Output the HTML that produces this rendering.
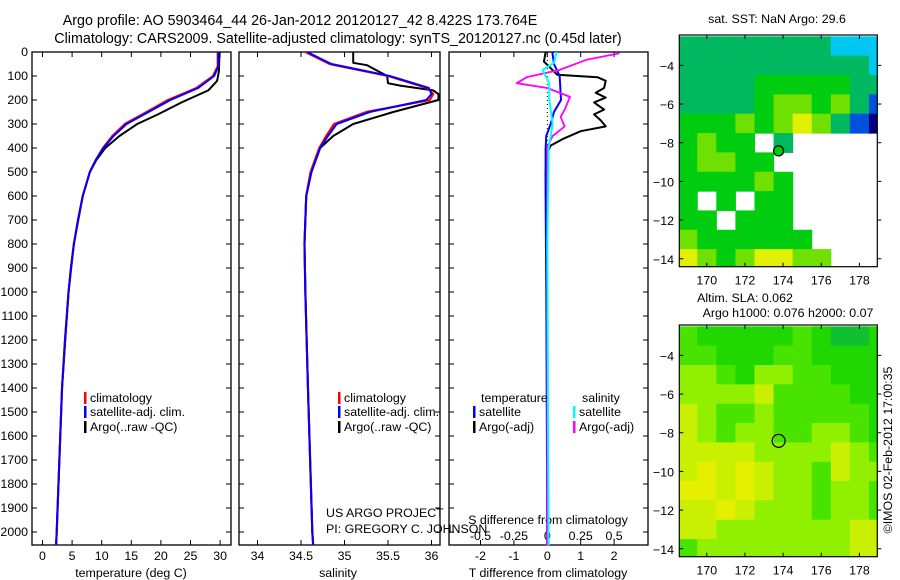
<!DOCTYPE html>
<html><head><meta charset="utf-8"><style>
html,body{margin:0;padding:0;background:#fff}
svg{display:block;font-family:"Liberation Sans",sans-serif}
text{font-size:12.4px;fill:#000}
</style></head><body>
<svg id="c" width="900" height="580" viewBox="0 0 900 580" xmlns="http://www.w3.org/2000/svg">
<text x="300" y="25" text-anchor="middle" style="font-size:14.3px">Argo profile: AO 5903464_44 26-Jan-2012 20120127_42 8.422S 173.764E</text>
<text x="338" y="43" text-anchor="middle" style="font-size:14.3px">Climatology: CARS2009. Satellite-adjusted climatology: synTS_20120127.nc (0.45d later)</text>
<g id="g"></g>
<text x="326" y="517">US ARGO PROJECT</text>
<text x="326" y="533">PI: GREGORY C. JOHNSON</text>
<text x="777" y="23" text-anchor="middle">sat. SST: NaN Argo: 29.6</text>
<text x="745" y="302" text-anchor="middle">Altim. SLA: 0.062</text>
<text x="788" y="317" text-anchor="middle">Argo h1000: 0.076 h2000: 0.07</text>
<text transform="translate(892,450) rotate(-90)" text-anchor="middle">©IMOS 02-Feb-2012 17:00:35</text>
</svg>
<script>
// ---- profile data (depth in m) ----
const tDepth=[0,60,100,150,200,250,300,350,400,450,500,600,700,800,900,1000,1200,1400,1600,1800,2000,2055];
const tClim=[29.6,29.6,28.8,26.0,21.2,17.6,13.9,11.8,10.2,9.0,8.0,6.8,6.0,5.3,4.8,4.4,3.8,3.3,3.0,2.7,2.4,2.3];
const tSat=[29.7,29.7,29.0,26.3,21.6,17.9,14.2,12.0,10.3,9.0,8.0,6.8,6.0,5.3,4.8,4.4,3.8,3.3,3.0,2.7,2.4,2.3];
const tArgoDepth=[0,80,120,160,210,260,300,350,400,450,500,600,800,1000,1400,1800,2000,2055];
const tArgo=[29.9,29.8,29.5,28.0,23.5,19.5,16.0,13.0,10.6,9.1,8.0,6.8,5.3,4.4,3.3,2.7,2.4,2.3];
const sDepth=[0,50,100,150,175,200,250,300,350,400,500,600,800,1000,1400,2000,2055];
const sClim=[34.55,34.83,35.50,35.95,36.02,35.98,35.25,34.88,34.79,34.71,34.61,34.56,34.54,34.55,34.58,34.63,34.64];
const sSat=[34.57,34.85,35.52,35.97,36.0,35.94,35.29,34.91,34.81,34.72,34.62,34.56,34.54,34.55,34.58,34.63,34.64];
const sArgoDepth=[0,45,55,100,130,140,160,175,200,250,300,350,400,500,600,800,1000,1400,2000,2055];
const sArgo=[35.10,35.10,35.26,35.49,35.50,35.64,36.02,36.08,36.08,35.56,35.10,34.87,34.72,34.62,34.56,34.54,34.55,34.58,34.63,34.64];
const dDepthTs=[0,50,100,200,250,300,350,400,600,1000,2055];
const dTsat=[0.15,0.2,0.37,0.41,0.2,0.1,-0.03,-0.05,-0.05,-0.03,0];
const dDepthTa=[0,40,60,95,105,120,150,170,190,210,240,260,285,310,330,360,390,420,500,1000,2055];
const dTargo=[-0.05,-0.1,0.05,0.3,1.5,1.75,1.7,1.45,1.75,1.4,1.7,1.4,1.6,1.75,1.0,0.5,0.1,0,-0.05,0,0];
const dDepthSs=[0,45,75,130,200,300,400,800,2055];
const dSsat=[0.07,0.05,-0.035,0.015,0.015,0.04,0.01,0.0,0.01];
const dDepthSa=[5,33,75,104,130,150,187,240,270,310,350,395,800,2055];
const dSargo=[0.54,0.29,0.09,-0.15,-0.23,0,0.17,0.13,0.1,0.13,0.04,0,0,0];
const depthTicks=[0,100,200,300,400,500,600,700,800,900,1000,1100,1200,1300,1400,1500,1600,1700,1800,1900,2000];
const tTicks=[0,5,10,15,20,25,30];
const sTicks=[34,34.5,35,35.5,36];
const sTickLabels=['34','34.5','35','35.5','36'];
const dTTicks=[-2,-1,0,1,2];
const dSTicks=[-0.5,-0.25,0,0.25,0.5];
const dSTickLabels=['-0.5','-0.25','0','0.25','0.5'];
// ---- map data: 1-degree cells, rows from lat -2.5 southward, cols from lon 168.5 eastward ----
const mapLat0=-2.5, mapLon0=168.5;
const sstGrid=[
[3,3,3,3,3,3,3,3,2,2,2],
[3,3,3,3,3,3,3,3,3,3,2],
[3,3,3,3,4,4,4,4,4,3,3],
[3,3,3,3,4,5,5,4,5,3,1],
[4,4,4,5,4,5,6,5,3,1,0],
[4,5,4,4,null,3,null,null,null,null,null],
[4,5,5,4,4,null,null,null,null,null,null],
[4,4,4,4,5,4,null,null,null,null,null],
[4,null,4,null,4,4,null,null,null,null,null],
[4,4,null,4,4,4,null,null,null,null,null],
[5,4,4,4,4,4,4,null,null,null,null],
[6,5,4,5,6,6,5,5,null,null,null]];
const slaGrid=[
[5,4,4,4,4,4,5,4,3,3,4],
[5,5,4,4,4,5,5,4,4,4,4],
[6,6,5,4,6,6,5,5,4,4,4],
[6,6,6,6,7,5,5,5,5,4,4],
[7,6,5,5,6,5,5,5,5,5,4],
[7,6,5,6,6,5,5,6,6,5,4],
[7,7,7,7,6,6,6,6,7,6,5],
[7,8,7,8,7,6,6,5,7,6,6],
[8,8,7,8,7,6,6,5,6,6,5],
[7,7,8,7,6,6,6,5,6,6,5],
[7,7,6,6,6,6,6,6,6,7,7],
[5,6,6,6,6,6,6,6,6,7,7]];
const argoLon=173.764, argoLat=-8.422;
const mapLonTicks=[170,172,174,176,178];
const mapLatTicks=[-4,-6,-8,-10,-12,-14];

const NS='http://www.w3.org/2000/svg';
const G=document.getElementById('g');
function mk(tag,attrs,parent){const e=document.createElementNS(NS,tag);for(const k in attrs)e.setAttribute(k,attrs[k]);(parent||G).appendChild(e);return e;}
const TOP=52, BOT=545;
const yD=d=>TOP+d*0.24;
const xT=v=>42.5+v*5.92;
const xS=v=>257.5+(v-34)*87;
const xDT=v=>547.3+v*33.4;
const xDS=v=>547.3+v*133.6;

function frame(x0,x1,name){
  const r=mk('rect',{x:x0,y:TOP,width:x1-x0,height:BOT-TOP,fill:'none',stroke:'#000','stroke-width':1.3});
  
  
}
function line(xs,ds,xf,col,w,name,dash){
  const p=mk('polyline',{points:xs.map((v,i)=>xf(v)+','+yD(ds[i])).join(' '),fill:'none',stroke:col,'stroke-width':w,'stroke-linejoin':'round'});
  if(dash)p.setAttribute('stroke-dasharray',dash);
  
  
}
function txt(x,y,s,name,anchor){
  const t=mk('text',{x:x,y:y,'text-anchor':anchor||'start'});t.textContent=s;
  
  
  return t;
}
function xticks(ticks,labels,xf,x0,x1,ly,name,top){
  ticks.forEach((v,i)=>{const x=xf(v);
    mk('line',{x1:x,x2:x,y1:BOT,y2:BOT-5,stroke:'#000'});
    if(top)mk('line',{x1:x,x2:x,y1:TOP,y2:TOP+5,stroke:'#000'});
    txt(x,ly,labels[i],name,'middle');});
}
frame(32,231,'temperature-panel');frame(239,440,'salinity-panel');frame(449,648,'difference-panel');
depthTicks.forEach(d=>{const y=yD(d);
  [[32,37],[226,231],[239,244],[435,440],[449,454],[643,648]].forEach(s=>mk('line',{x1:s[0],x2:s[1],y1:y,y2:y,stroke:'#000'}));
  txt(28,y+4,String(d),'depth-tick-label','end');});
xticks(tTicks,tTicks.map(String),xT,32,231,560,'temperature-tick-label',true);
xticks(sTicks,sTickLabels,xS,239,440,560,'salinity-tick-label',true);
xticks(dTTicks,dTTicks.map(String),xDT,449,648,560,'t-diff-tick-label',true);
dSTicks.forEach((v,i)=>txt(xDS(v),540,dSTickLabels[i],'s-diff-tick-label','middle'));
txt(131,577,'temperature (deg C)','temperature-axis-title','middle');
txt(338,577,'salinity','salinity-axis-title','middle');
txt(548,577,'T difference from climatology','t-diff-axis-title','middle');
txt(548,524,'S difference from climatology','s-diff-axis-title','middle');
line(tArgo,tArgoDepth,xT,'#000',2,'temperature-argo-line');
line(tClim,tDepth,xT,'#f00',2.2,'temperature-climatology-line');
line(tSat,tDepth,xT,'#00f',2,'temperature-satellite-line');
line(sArgo,sArgoDepth,xS,'#000',2,'salinity-argo-line');
line(sClim,sDepth,xS,'#f00',2.2,'salinity-climatology-line');
line(sSat,sDepth,xS,'#00f',2,'salinity-satellite-line');
mk('line',{x1:547.3,x2:547.3,y1:TOP,y2:yD(420),stroke:'#000','stroke-dasharray':'1,3'});
line(dTargo,dDepthTa,xDT,'#000',2,'t-diff-argo-line');
line(dTsat,dDepthTs,xDT,'#00f',2,'t-diff-satellite-line');
line(dSargo,dDepthSa,xDS,'#f0f',1.8,'s-diff-argo-line');
line(dSsat,dDepthSs,xDS,'#0ff',2,'s-diff-satellite-line');
function leg(x,y,col,s,name){mk('rect',{x:x,y:y-10,width:2.5,height:12,fill:col});txt(x+6,y,s,name);}
leg(84,402,'#f00','climatology','legend-climatology');
leg(84,416,'#00f','satellite-adj. clim.','legend-satellite-adj');
leg(84,431,'#000','Argo(..raw -QC)','legend-argo-raw');
leg(338,402,'#f00','climatology','legend-climatology-sal');
leg(338,416,'#00f','satellite-adj. clim.','legend-satellite-adj-sal');
leg(338,431,'#000','Argo(..raw -QC)','legend-argo-raw-sal');
txt(481,402,'temperature','legend-temperature-header');
txt(582,402,'salinity','legend-salinity-header');
leg(473,416,'#00f','satellite','legend-t-satellite');
leg(473,431,'#000','Argo(-adj)','legend-t-argo');
leg(573,416,'#0ff','satellite','legend-s-satellite');
leg(573,431,'#f0f','Argo(-adj)','legend-s-argo');
const sstCols=['#000080','#0050e0','#00c8f0','#00b860','#00cc10','#70e000','#e0f000'];
const slaCols=[null,null,null,'#10c030','#20d800','#48e400','#90f000','#c8f000','#e4f000'];
function map(top,grid,cols,name,filled){
  const L=679.3,R=877.3,B=top+231.7;
  const lx=v=>L+(v-168.56)*19.08, ly=v=>top+(-2.43-v)*19.34;
  const cid='clip'+name;const cp=mk('clipPath',{id:cid});mk('rect',{x:L,y:top,width:R-L,height:B-top},cp);
  const cg=mk('g',{'clip-path':'url(#'+cid+')'});
  grid.forEach((row,r)=>row.forEach((v,c)=>{if(v===null)return;
    const cell=mk('rect',{x:lx(mapLon0+c),y:ly(mapLat0-r),width:19.6,height:19.9,fill:cols[v]},cg);
    
    }));
  const fr=mk('rect',{x:L,y:top,width:R-L,height:B-top,fill:'none',stroke:'#000','stroke-width':1.2});
  
  
  mapLonTicks.forEach(v=>{const x=lx(v);mk('line',{x1:x,x2:x,y1:B,y2:B-4,stroke:'#000'});mk('line',{x1:x,x2:x,y1:top,y2:top+4,stroke:'#000'});txt(x,B+18,String(v),'map-lon-label','middle');});
  mapLatTicks.forEach(v=>{const y=ly(v);mk('line',{x1:L,x2:L+4,y1:y,y2:y,stroke:'#000'});mk('line',{x1:R,x2:R+4,y1:y,y2:y,stroke:'#000'});txt(674,y+5,String(v).replace('-','\u2212'),'map-lat-label','end');});
  const m=mk('circle',{cx:lx(argoLon),cy:ly(argoLat),r:filled?5:6.5,fill:filled?'#00cc10':'none',stroke:'#000','stroke-width':1.2});
  
  
}
map(35,sstGrid,sstCols,'sst-map',true);
map(325,slaGrid,slaCols,'sla-map',false);
</script>
</body></html>
